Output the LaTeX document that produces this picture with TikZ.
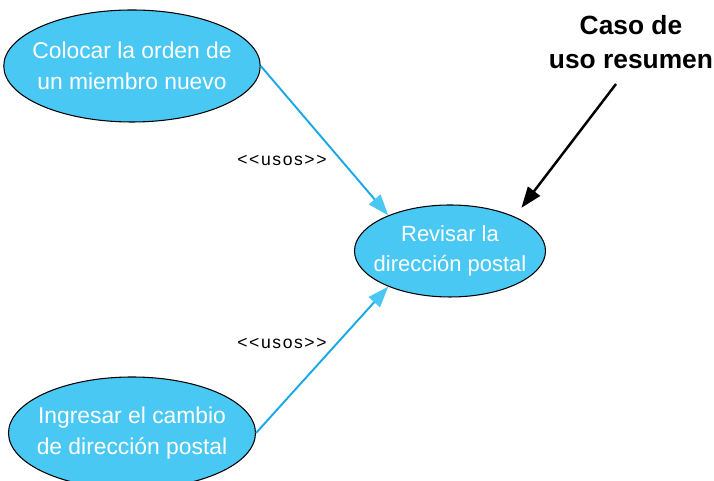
\documentclass[tikz,border=0pt]{standalone}
\usepackage{fontspec}
\setmainfont{Liberation Sans}
\newfontfamily\usosfont{Liberation Sans}[LetterSpace=9]
\usepackage{tikz}
\usetikzlibrary{positioning,arrows.meta,shapes.geometric}

\definecolor{usofill}{HTML}{4AC8F4}
\definecolor{usoline}{HTML}{1AA8E6}

\begin{document}
\begin{tikzpicture}[
    usecase/.style={ellipse, draw, line width=0.6pt, fill=usofill, text=white,
        inner xsep=-0.18cm, inner ysep=0pt, align=center, font=\fontsize{13}{17.5}\selectfont},
    bigcase/.style={usecase, minimum width=4.94cm, minimum height=2.24cm},
    smallcase/.style={usecase, minimum width=3.82cm, minimum height=1.84cm,
        font=\fontsize{12.5}{17}\selectfont},
    usos/.style={font=\usosfont\fontsize{10}{12}\selectfont},
    usosarr/.style={usoline, line width=1.1pt, -{Triangle[color=usofill, length=0.42cm, width=0.3cm]}},
    notearr/.style={line width=1.4pt, -{Triangle[length=0.42cm, width=0.3cm]}}
]
\useasboundingbox (0,0) rectangle (14.28,9.62);

\node[bigcase] (colocar) at (2.64,8.30) {Colocar la orden de\\un miembro nuevo};
\node[bigcase] (ingresar) at (2.64,0.96) {Ingresar el cambio\\de dirección postal};
\node[smallcase] (revisar) at (9.00,4.60) {Revisar la\\dirección postal};

\node[usos] (usos1) at (5.64,6.42) {<<usos>>};
\node[usos] (usos2) at (5.64,2.76) {<<usos>>};

\node[align=center, font=\bfseries\fontsize{15}{19}\selectfont] (resumen) at (12.62,8.78) {Caso de\\uso resumen};
\coordinate (c1) at (12.32,7.94);

\draw[usosarr] (colocar.east) -- (revisar.150);
\draw[usosarr] (ingresar.east) -- (revisar.210);
\draw[notearr, shorten >=0.22cm] (c1) -- (revisar.28);
\end{tikzpicture}
\end{document}
